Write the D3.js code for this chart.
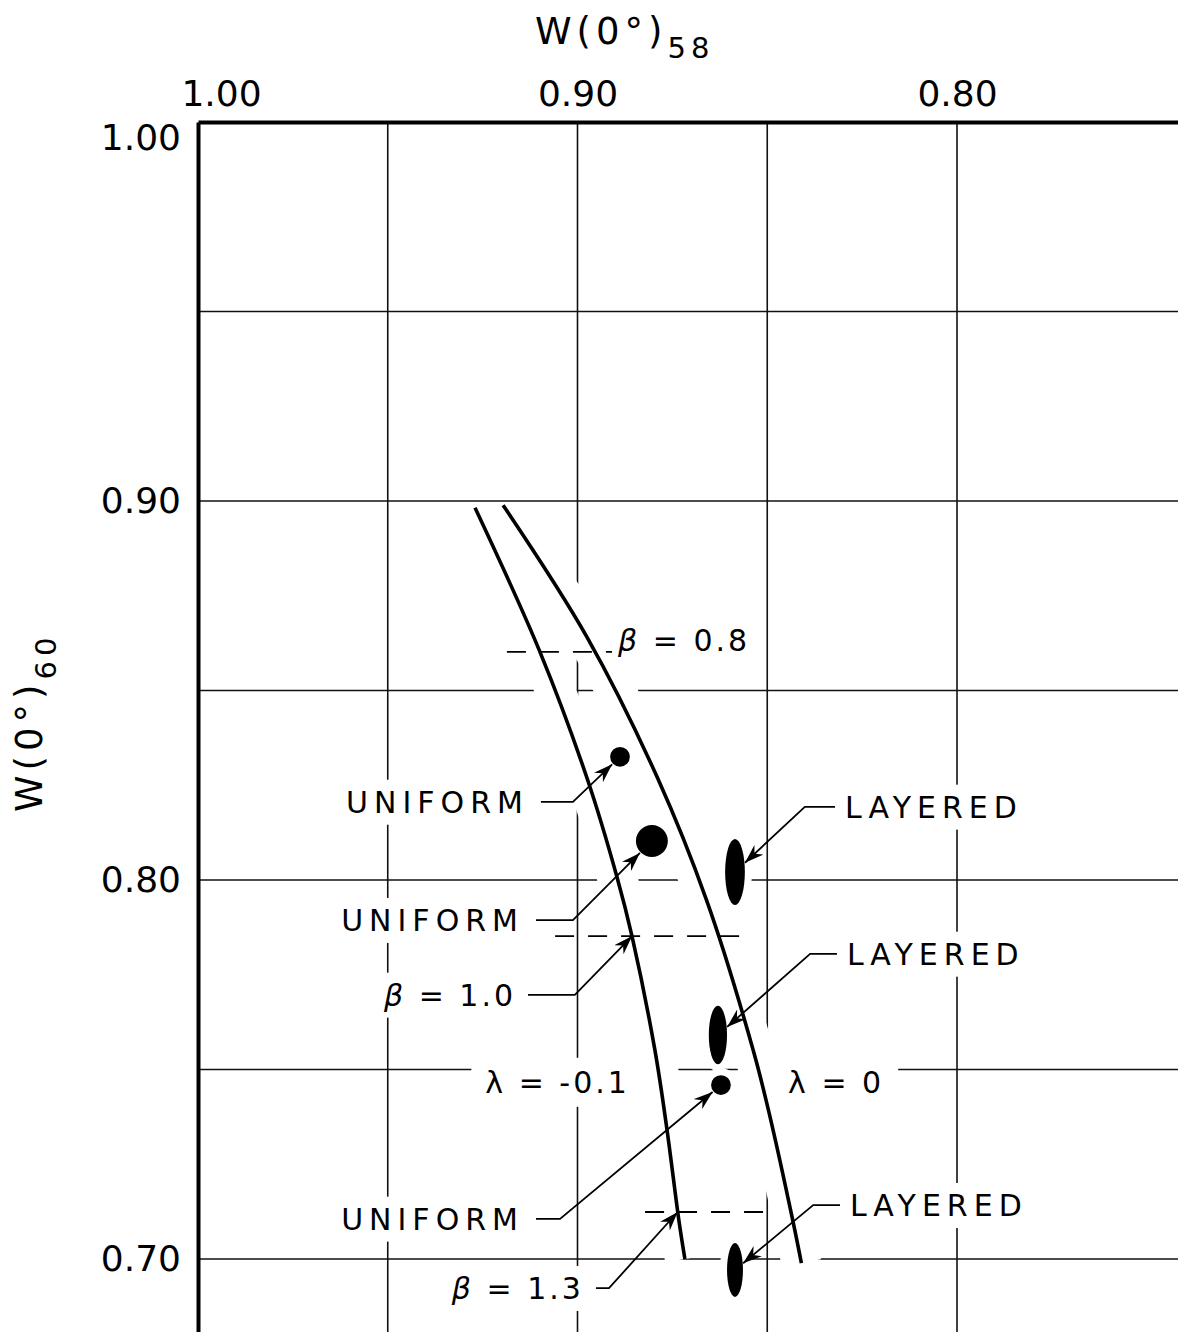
<!DOCTYPE html>
<html>
<head>
<meta charset="utf-8">
<script src="https://cdn.jsdelivr.net/npm/d3@7"></script>
<style>
  body { margin: 0; background: #fff; }
  svg { display: block; font-family: "DejaVu Sans", sans-serif; }
</style>
</head>
<body>
<div id="chart"></div>
<script>
// axes: x = W(0°)58 (reversed, on top), y = W(0°)60
const xTicks = [1.00, 0.90, 0.80];
const yTicks = [1.00, 0.90, 0.80, 0.70];
const xGrid = [0.95, 0.90, 0.85, 0.80];
const yGrid = [0.95, 0.90, 0.85, 0.80, 0.75, 0.70];

// computed curves [W58, W60]
const curveLambdaM01 = [
  [0.9270, 0.8982], [0.9099, 0.8602], [0.8975, 0.8269], [0.8896, 0.8008],
  [0.8856, 0.7850], [0.8796, 0.7551], [0.8764, 0.7340], [0.8733, 0.7103],
  [0.8717, 0.7000]
];
const curveLambda0 = [
  [0.9196, 0.8989], [0.8975, 0.8641], [0.8789, 0.8269], [0.8660, 0.7947],
  [0.8537, 0.7551], [0.8495, 0.7385], [0.8433, 0.7103], [0.8410, 0.6989]
];

// constant beta lines (dashed)
const betaValues = ["0.8", "1.0", "1.3"];
const betaY = [0.8602, 0.7852, 0.7124];
const betaFrom = [0.9186, 0.9059, 0.8822];
const betaTo = [0.8909, 0.8540, 0.8480];

// measured points, uniform model (half-size in W units)
const uniformX = [0.8888, 0.8804, 0.8622];
const uniformY = [0.8325, 0.8103, 0.7459];
const uniformR = [0.0026, 0.0042, 0.0026];

// measured points, layered model (ellipses, half-widths in W units)
const layeredX = [0.8585, 0.8630, 0.8585];
const layeredY = [0.8021, 0.7591, 0.6971];
const layeredDx = [0.0026, 0.0024, 0.0021];
const layeredDy = [0.0087, 0.0077, 0.0071];

// callouts: text anchor (tx, ty), elbow of leader (ex), and what the arrow points at
const notes = [
  { text: "UNIFORM", side: "left",  tx: 0.9128, ty: 0.8206, ex: 0.9012, uniform: 0 },
  { text: "UNIFORM", side: "left",  tx: 0.9141, ty: 0.7894, ex: 0.9012, uniform: 1 },
  { text: "β = 1.0", side: "left",  tx: 0.9162, ty: 0.7697, ex: 0.9007, at: [0.8856, 0.7852] },
  { text: "UNIFORM", side: "left",  tx: 0.9141, ty: 0.7106, ex: 0.9046, uniform: 2 },
  { text: "β = 1.3", side: "left",  tx: 0.8983, ty: 0.6923, ex: 0.8917, at: [0.8736, 0.7124] },
  { text: "LAYERED", side: "right", tx: 0.8295, ty: 0.8193, ex: 0.8401, layered: 0 },
  { text: "LAYERED", side: "right", tx: 0.8290, ty: 0.7805, ex: 0.8387, layered: 1 },
  { text: "LAYERED", side: "right", tx: 0.8282, ty: 0.7142, ex: 0.8379, layered: 2 }
];
const freeLabels = [
  { text: "β = 0.8",  anchor: "start", tx: 0.8893, ty: 0.8633 },
  { text: "λ = -0.1", anchor: "end",   tx: 0.8862, ty: 0.7467 },
  { text: "λ = 0",    anchor: "start", tx: 0.8445, ty: 0.7467 }
];

const W = 1178, H = 1332;

const x = d3.scaleLinear().domain([1.00, 0.80]).range([198, 957]);
x.domain([1.00, x.invert(W)]).range([198, W]);
const y = d3.scaleLinear().domain([1.00, 0.70]).range([122, 1259]);
y.domain([1.00, y.invert(H)]).range([122, H]);

const svg = d3.select("#chart").append("svg")
  .attr("width", W).attr("height", H);

const defs = svg.append("defs");
defs.append("marker")
  .attr("id", "arrow")
  .attr("viewBox", "0 -7 20 14")
  .attr("refX", 19).attr("refY", 0)
  .attr("markerWidth", 20).attr("markerHeight", 14)
  .attr("markerUnits", "userSpaceOnUse")
  .attr("orient", "auto")
  .append("path")
  .attr("d", "M0,-6.5L19,0L0,6.5L6,0Z")
  .attr("fill", "#000");
defs.append("clipPath").attr("id", "below-top")
  .append("rect").attr("x", 0).attr("y", y(0.898)).attr("width", W).attr("height", H);

// grid
const grid = svg.append("g").attr("stroke", "#111").attr("stroke-width", 1.6);
grid.selectAll(".vg").data(xGrid).join("line")
  .attr("x1", d => x(d)).attr("x2", d => x(d))
  .attr("y1", y.range()[0]).attr("y2", y.range()[1]);
grid.selectAll(".hg").data(yGrid).join("line")
  .attr("x1", x.range()[0]).attr("x2", x.range()[1])
  .attr("y1", d => y(d)).attr("y2", d => y(d));

// white halos so grid breaks around the drawing, as in the original sheet
const halo = svg.append("g").attr("fill", "#fff").attr("stroke", "#fff");

const line = d3.line()
  .x(d => x(d[0])).y(d => y(d[1]))
  .curve(d3.curveCatmullRom.alpha(0.5));

const curves = [curveLambdaM01, curveLambda0];
halo.append("g").attr("clip-path", "url(#below-top)")
  .selectAll("path").data(curves).join("path")
  .attr("d", line).attr("fill", "none").attr("stroke-width", 40);

const uniform = uniformX.map((v, i) => ({
  cx: x(v), cy: y(uniformY[i]), r: Math.abs(x(0) - x(uniformR[i]))
}));
const layered = layeredX.map((v, i) => ({
  cx: x(v), cy: y(layeredY[i]),
  rx: Math.abs(x(0) - x(layeredDx[i])), ry: Math.abs(y(0) - y(layeredDy[i]))
}));

halo.selectAll(".hu").data(uniform).join("circle")
  .attr("cx", d => d.cx).attr("cy", d => d.cy).attr("r", d => d.r)
  .attr("stroke-width", 14);
halo.selectAll(".hl").data(layered).join("ellipse")
  .attr("cx", d => d.cx).attr("cy", d => d.cy)
  .attr("rx", d => d.rx).attr("ry", d => d.ry)
  .attr("stroke-width", 14);

// curves
svg.append("g").selectAll("path").data(curves).join("path")
  .attr("d", line)
  .attr("fill", "none")
  .attr("stroke", "#000")
  .attr("stroke-width", 3.6);

// beta dashed lines
svg.append("g").selectAll("line").data(betaValues).join("line")
  .attr("x1", (d, i) => x(betaFrom[i])).attr("x2", (d, i) => x(betaTo[i]))
  .attr("y1", (d, i) => y(betaY[i])).attr("y2", (d, i) => y(betaY[i]))
  .attr("stroke", "#000").attr("stroke-width", 1.8)
  .attr("stroke-dasharray", "19,14");

// data marks
svg.append("g").selectAll("circle").data(uniform).join("circle")
  .attr("cx", d => d.cx).attr("cy", d => d.cy).attr("r", d => d.r)
  .attr("fill", "#000");
svg.append("g").selectAll("ellipse").data(layered).join("ellipse")
  .attr("cx", d => d.cx).attr("cy", d => d.cy)
  .attr("rx", d => d.rx).attr("ry", d => d.ry)
  .attr("fill", "#000");

// text helper: beta written in italic
function writeLabel(sel, str) {
  if (str.startsWith("β")) {
    sel.append("tspan").attr("font-style", "italic").text("β");
    sel.append("tspan").text(str.slice(1));
  } else {
    sel.text(str);
  }
}

const labels = svg.append("g").attr("font-size", 30).attr("fill", "#000");
const leaders = svg.append("g").attr("fill", "none").attr("stroke", "#000").attr("stroke-width", 1.8);

function haloBox(node, pad) {
  const b = node.getBBox();
  halo.append("rect")
    .attr("x", b.x - pad).attr("y", b.y - pad / 2)
    .attr("width", b.width + 2 * pad).attr("height", b.height + pad)
    .attr("stroke", "none");
}

notes.forEach(n => {
  const t = labels.append("text")
    .attr("x", x(n.tx)).attr("y", y(n.ty))
    .attr("dy", "0.36em")
    .attr("text-anchor", n.side === "left" ? "end" : "start")
    .attr("letter-spacing", n.text.startsWith("β") ? 3 : 6);
  writeLabel(t, n.text);
  haloBox(t.node(), 10);

  const x0 = n.side === "left" ? x(n.tx) + 12 : x(n.tx) - 10;
  const y0 = y(n.ty);
  const xe = x(n.ex);
  let tip;
  if (n.uniform !== undefined) {
    const m = uniform[n.uniform];
    const dx = xe - m.cx, dy = y0 - m.cy, len = Math.hypot(dx, dy);
    tip = [m.cx + dx * (m.r + 1) / len, m.cy + dy * (m.r + 1) / len];
  } else if (n.layered !== undefined) {
    const m = layered[n.layered];
    const dx = xe - m.cx, dy = y0 - m.cy;
    const k = 1 / Math.sqrt((dx / m.rx) ** 2 + (dy / m.ry) ** 2);
    tip = [m.cx + dx * k * 1.05, m.cy + dy * k * 1.05];
  } else {
    tip = [x(n.at[0]), y(n.at[1])];
  }
  leaders.append("path")
    .attr("d", `M${x0},${y0}L${xe},${y0}L${tip[0]},${tip[1]}`)
    .attr("marker-end", "url(#arrow)");
});

freeLabels.forEach(l => {
  const t = labels.append("text")
    .attr("x", x(l.tx)).attr("y", y(l.ty))
    .attr("dy", "0.36em")
    .attr("text-anchor", l.anchor)
    .attr("letter-spacing", 3);
  writeLabel(t, l.text);
  haloBox(t.node(), 14);
});

// axes
const fmt = d3.format(".2f");
const xAxis = svg.append("g")
  .attr("transform", `translate(0,${y(1.00)})`)
  .call(d3.axisTop(x).tickValues(xTicks).tickSize(0).tickPadding(16).tickFormat(fmt));
const yAxis = svg.append("g")
  .attr("transform", `translate(${x(1.00)},0)`)
  .call(d3.axisLeft(y).tickValues(yTicks).tickSize(0).tickPadding(17).tickFormat(fmt));

[xAxis, yAxis].forEach(a => {
  a.select(".domain").attr("stroke", "#000").attr("stroke-width", 4);
  a.selectAll("text")
    .attr("font-size", 36)
    .attr("font-family", "DejaVu Sans, sans-serif")
    .attr("fill", "#000");
});
xAxis.selectAll(".tick text").filter(d => d === 1).attr("dx", 23);
yAxis.selectAll(".tick text").filter(d => d === 1).attr("transform", "translate(0,16)");

// axis titles
const xTitle = svg.append("text")
  .attr("x", 535).attr("y", 44)
  .attr("font-size", 37).attr("letter-spacing", 5);
xTitle.append("tspan").text("W(0°)");
xTitle.append("tspan").attr("font-size", 29).attr("dy", 14).text("58");

const yTitle = svg.append("text")
  .attr("transform", "translate(42,812) rotate(-90)")
  .attr("font-size", 37).attr("letter-spacing", 5);
yTitle.append("tspan").text("W(0°)");
yTitle.append("tspan").attr("font-size", 29).attr("dy", 14).text("60");
</script>
</body>
</html>
